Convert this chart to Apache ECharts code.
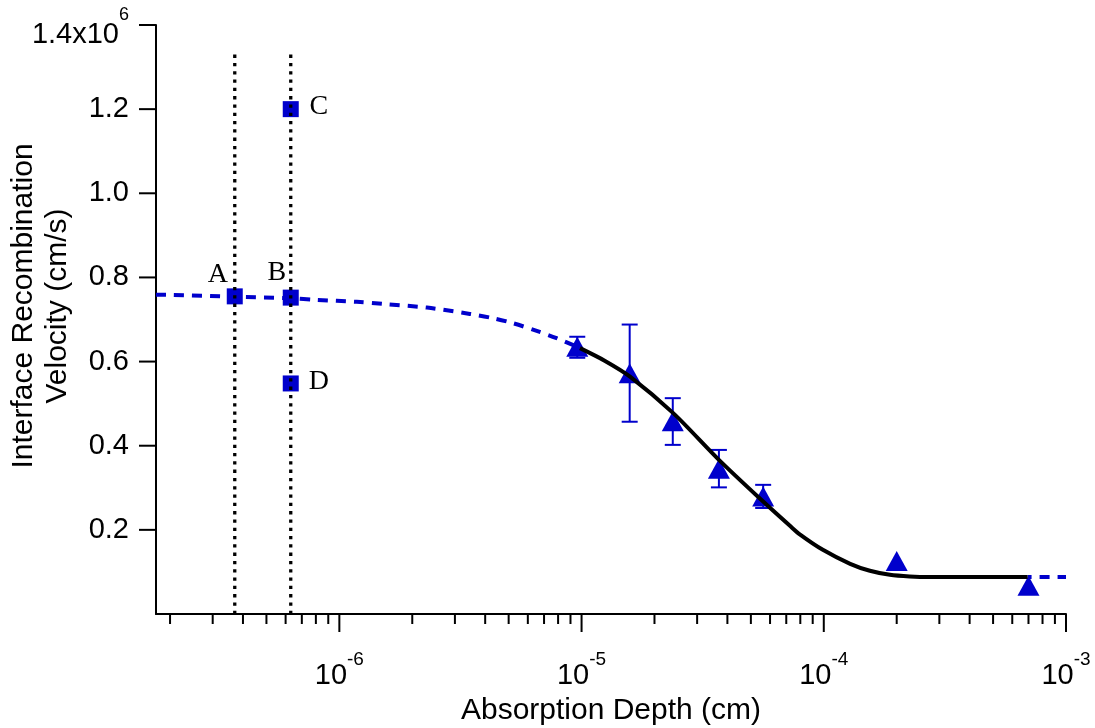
<!DOCTYPE html>
<html><head><meta charset="utf-8">
<script src="https://cdn.jsdelivr.net/npm/echarts@6/dist/echarts.min.js"></script>
<style>html,body{margin:0;padding:0;background:#fff}#c{width:1095px;height:728px}</style>
</head><body><div id="c"></div>
<script>
// ---------- data ----------
const xMin = 1.75e-7, xMax = 1e-3;
const yMin = 0, yMax = 1400000, yStep = 200000;
const yTickValues = [200000, 400000, 600000, 800000, 1000000, 1200000, 1400000];
const xMajorTicks = [1e-6, 1e-5, 1e-4, 1e-3];
const xMinorTicks = [2e-7, 3e-7, 4e-7, 5e-7, 6e-7, 7e-7, 8e-7, 9e-7,
                     2e-6, 3e-6, 4e-6, 5e-6, 6e-6, 7e-6, 8e-6, 9e-6,
                     2e-5, 3e-5, 4e-5, 5e-5, 6e-5, 7e-5, 8e-5, 9e-5,
                     2e-4, 3e-4, 4e-4, 5e-4, 6e-4, 7e-4, 8e-4, 9e-4];
const xTitle = 'Absorption Depth (cm)';
const yTitle = 'Interface Recombination\nVelocity (cm/s)';

const squareNames = ['A', 'B', 'C', 'D'];
const squareX = [3.7e-7, 6.3e-7, 6.3e-7, 6.3e-7];
const squareY = [755000, 752000, 1200000, 548000];

const guideX = [3.7e-7, 6.3e-7];
const guideTop = 1330000;

const triX = [9.6e-6, 1.58e-5, 2.38e-5, 3.69e-5, 5.62e-5, 2.0e-4, 7.0e-4];
const triY = [635000, 572000, 458000, 345000, 279000, 126000, 67000];
const errLow = [609000, 457000, 402000, 301000, 252000, null, null];
const errHigh = [659000, 688000, 513000, 390000, 307000, null, null];

const fitLeftX = [1.75e-7, 2.0e-7, 3.65e-7, 6.26e-7, 8.07e-7, 1.18e-6, 1.51e-6, 2.30e-6,
                  3.46e-6, 4.31e-6, 5.21e-6, 6.53e-6, 7.89e-6, 9.85e-6];
const fitLeftY = [759000, 758500, 754400, 750600, 746600, 742000, 737100, 728300,
                  713300, 703100, 691200, 672900, 655600, 632000];

const fitX = [9.85e-6, 1.25e-5, 1.585e-5, 2.39e-5, 3.69e-5, 5.62e-5, 7.25e-5, 7.96e-5,
              9.91e-5, 1.285e-4, 1.55e-4, 1.875e-4, 2.263e-4, 2.74e-4, 4.0e-4, 6.94e-4];
const fitY = [632000, 601600, 564300, 477400, 366400, 267300, 209600, 189400,
              152600, 119300, 102700, 93100, 89100, 87700, 87700, 87700];

const fitRightX = [6.94e-4, 1.0e-3];
const fitRightY = [87700, 87700];

// ---------- styles ----------
const BLUE = '#0000cc';
const SANS = 'Liberation Sans';
const labelOffsets = { A: [-17, -22], B: [-14, -25], C: [28, -3], D: [28, -2] };

const zip = (a, b) => a.map((v, i) => [v, b[i]]);

const chart = echarts.init(document.getElementById('c'), null, { renderer: 'canvas' });

function tickSeries(name, data, renderFn) {
  return {
    name, type: 'custom', data, clip: false, z: 10, silent: true,
    encode: { x: 0, y: 1 }, renderItem: renderFn
  };
}

const option = {
  backgroundColor: '#fff',
  animation: false,
  grid: { left: 156, right: 29, top: 25, bottom: 114, containLabel: false, outerBoundsMode: 'none' },
  graphic: [{
    type: 'text', x: 41, y: 306, rotation: Math.PI / 2, silent: true,
    style: {
      text: yTitle, fontFamily: SANS, fontSize: 30, lineHeight: 34, fill: '#000',
      align: 'center', verticalAlign: 'middle'
    }
  }],
  xAxis: {
    type: 'log', logBase: 10, min: xMin, max: xMax,
    name: xTitle, nameLocation: 'middle', nameGap: 82,
    nameTextStyle: { fontFamily: SANS, fontSize: 30, color: '#000' },
    axisLine: { lineStyle: { color: '#000', width: 2 } },
    axisTick: { show: false },
    splitLine: { show: false },
    axisLabel: {
      showMinLabel: false, showMaxLabel: true, margin: 34,
      formatter: function (v) {
        const e = Math.round(Math.log10(v));
        return '{m|10}{s|' + e + '}';
      },
      rich: {
        m: { fontFamily: SANS, fontSize: 29, color: '#000', lineHeight: 42, verticalAlign: 'bottom' },
        s: { fontFamily: SANS, fontSize: 19, color: '#000', lineHeight: 20, verticalAlign: 'top', padding: [2, 0, 0, 0] }
      }
    }
  },
  yAxis: {
    type: 'value', min: yMin, max: yMax, interval: yStep,
    axisLine: { show: true, lineStyle: { color: '#000', width: 2 } },
    axisTick: { show: false },
    splitLine: { show: false },
    axisLabel: {
      margin: 27, fontFamily: SANS, fontSize: 29, color: '#000',
      formatter: function (v) {
        if (v === 0) return '';
        if (v === yMax) return '{m|' + (v / 1e6).toFixed(1) + 'x10}{s|6}';
        return (v / 1e6).toFixed(1);
      },
      rich: {
        m: { fontFamily: SANS, fontSize: 29, color: '#000', lineHeight: 48, verticalAlign: 'bottom' },
        s: { fontFamily: SANS, fontSize: 18, color: '#000', lineHeight: 20, verticalAlign: 'top', padding: [5, 0, 0, 0] }
      }
    }
  },
  series: [
    // error bars
    {
      type: 'custom', z: 2, silent: true,
      data: triX.map((x, i) => [x, errLow[i], errHigh[i]]).filter(d => d[1] != null),
      encode: { x: 0, y: [1, 2] },
      renderItem: function (params, api) {
        const lo = api.coord([api.value(0), api.value(1)]);
        const hi = api.coord([api.value(0), api.value(2)]);
        const w = 8;
        const st = { stroke: BLUE, lineWidth: 2 };
        return {
          type: 'group', children: [
            { type: 'line', shape: { x1: lo[0], y1: lo[1], x2: hi[0], y2: hi[1] }, style: st },
            { type: 'line', shape: { x1: lo[0] - w, y1: lo[1], x2: lo[0] + w, y2: lo[1] }, style: st },
            { type: 'line', shape: { x1: hi[0] - w, y1: hi[1], x2: hi[0] + w, y2: hi[1] }, style: st }
          ]
        };
      }
    },
    // triangles
    {
      type: 'scatter', z: 3, symbol: 'triangle', symbolSize: [22, 20],
      itemStyle: { color: BLUE, opacity: 1 }, data: zip(triX, triY)
    },
    // dashed fit extensions
    {
      type: 'line', z: 4, showSymbol: false, smooth: 0.3, data: zip(fitLeftX, fitLeftY),
      lineStyle: { color: BLUE, width: 4, type: [10, 8] }
    },
    {
      type: 'line', z: 4, showSymbol: false, data: zip(fitRightX, fitRightY),
      lineStyle: { color: BLUE, width: 4, type: [10, 8], dashOffset: -12 }
    },
    // solid fit
    {
      type: 'line', z: 5, showSymbol: false, smooth: 0.3, data: zip(fitX, fitY),
      lineStyle: { color: '#000', width: 4 }
    },
    // squares
    {
      type: 'scatter', z: 6, symbol: 'rect', symbolSize: 16,
      itemStyle: { color: BLUE, opacity: 1 },
      data: squareNames.map((n, i) => ({
        name: n, value: [squareX[i], squareY[i]],
        label: { offset: labelOffsets[n] }
      })),
      label: {
        show: true, position: 'inside', formatter: '{b}', opacity: 1,
        fontFamily: 'Liberation Serif', fontSize: 28, color: '#000'
      }
    },
    // dotted guide lines
    ...guideX.map(gx => ({
      type: 'line', z: 7, showSymbol: false, silent: true,
      data: [[gx, yMin], [gx, guideTop]],
      lineStyle: { color: '#000', width: 3.3, type: [3.3, 5], cap: 'butt' }
    })),
    // x major ticks
    tickSeries('xmaj', xMajorTicks.map(v => [v, yMin]), function (params, api) {
      const p = api.coord([api.value(0), yMin]);
      return { type: 'line', shape: { x1: p[0], y1: p[1], x2: p[0], y2: p[1] + 18 }, style: { stroke: '#000', lineWidth: 2 } };
    }),
    // x minor ticks
    tickSeries('xmin', xMinorTicks.map(v => [v, yMin]), function (params, api) {
      const p = api.coord([api.value(0), yMin]);
      return { type: 'line', shape: { x1: p[0], y1: p[1], x2: p[0], y2: p[1] + 10 }, style: { stroke: '#000', lineWidth: 2 } };
    }),
    // y ticks
    tickSeries('ytick', yTickValues.map(v => [xMin, v]), function (params, api) {
      const p = api.coord([xMin, api.value(1)]);
      return { type: 'line', shape: { x1: p[0] - 17, y1: p[1], x2: p[0], y2: p[1] }, style: { stroke: '#000', lineWidth: 2 } };
    })
  ]
};
chart.setOption(option);
</script>
</body></html>
